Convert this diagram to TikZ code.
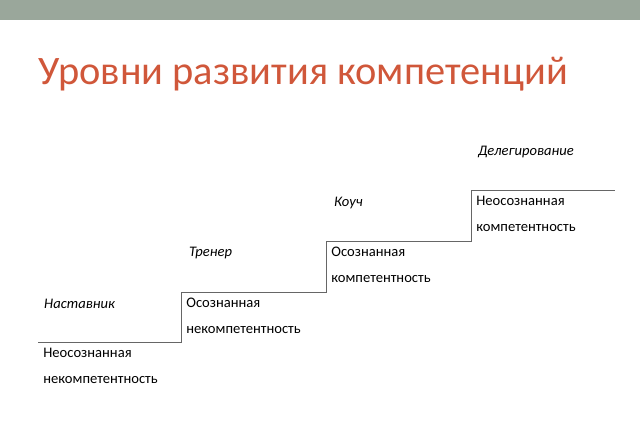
\documentclass[tikz,border=0pt]{standalone}
\usepackage{fontspec}
\setmainfont{Carlito}
\usetikzlibrary{positioning}
\definecolor{barcol}{HTML}{9AA79B}
\definecolor{titlecol}{HTML}{D0573A}
\begin{document}
\begin{tikzpicture}[x=0.02cm,y=-0.02cm,
  role/.style={anchor=west,font=\fontsize{8.3}{10}\selectfont\itshape},
  level/.style={anchor=north west,align=left,font=\fontsize{8.3}{14.8}\selectfont,inner sep=0pt}]
\useasboundingbox (0,0) rectangle (640,443);
\fill[barcol] (0,0) rectangle (640,20);
\node[anchor=base west,text=titlecol,font=\fontsize{23}{28}\selectfont,inner sep=0pt] (title) at (38,84) {Уровни развития компетенций};

% steps
\coordinate (s0) at (38,342);
\coordinate (s1) at (181,342);
\coordinate (s2) at (326,292);
\coordinate (s3) at (471,241);
\coordinate (s4) at (615,190);
\draw[gray!80!black,thin] (s0) -- (s1) |- (s2) |- (s3) |- (s4);

\node[role] (mentor) at (38,304) {Наставник};
\node[role] (trainer) at (183,253) {Тренер};
\node[role] (coach) at (328,203) {Коуч};
\node[role] (deleg) at (472,152) {Делегирование};

\node[level] (l1) at (43,348) {Неосознанная\\некомпетентность};
\node[level] (l2) at (186,298) {Осознанная\\некомпетентность};
\node[level] (l3) at (331,247) {Осознанная\\компетентность};
\node[level] (l4) at (476,196) {Неосознанная\\компетентность};
\end{tikzpicture}
\end{document}
